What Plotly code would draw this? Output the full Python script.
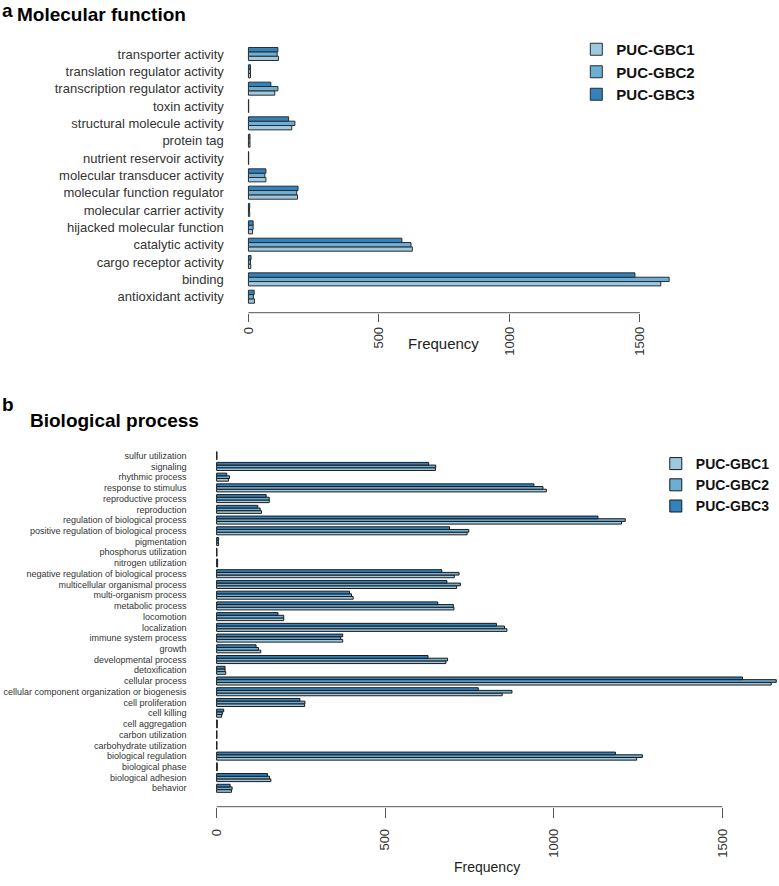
import plotly.graph_objects as go

W, H = 779, 886

# ---- panel a: molecular function (bottom -> top) ----
mf_terms = [
    "antioxidant activity", "binding", "cargo receptor activity",
    "catalytic activity", "hijacked molecular function",
    "molecular carrier activity", "molecular function regulator",
    "molecular transducer activity", "nutrient reservoir activity",
    "protein tag", "structural molecule activity", "toxin activity",
    "transcription regulator activity", "translation regulator activity",
    "transporter activity",
]
mf_gbc1 = [23, 1580, 9, 628, 16, 5, 188, 67, 1, 6, 166, 1, 101, 8, 115]
mf_gbc2 = [19, 1612, 8, 623, 18, 4, 185, 63, 1, 6, 178, 1, 113, 8, 110]
mf_gbc3 = [22, 1481, 10, 588, 18, 5, 190, 67, 1, 6, 154, 1, 86, 8, 113]

# ---- panel b: biological process (bottom -> top) ----
bp_terms = [
    "behavior", "biological adhesion", "biological phase",
    "biological regulation", "carbohydrate utilization", "carbon utilization",
    "cell aggregation", "cell killing", "cell proliferation",
    "cellular component organization or biogenesis", "cellular process",
    "detoxification", "developmental process", "growth",
    "immune system process", "localization", "locomotion",
    "metabolic process", "multi-organism process",
    "multicellular organismal process",
    "negative regulation of biological process", "nitrogen utilization",
    "phosphorus utilization", "pigmentation",
    "positive regulation of biological process",
    "regulation of biological process", "reproduction",
    "reproductive process", "response to stimulus", "rhythmic process",
    "signaling", "sulfur utilization",
]
bp_gbc1 = [44, 161, 2, 1246, 1, 1, 2, 15, 261, 847, 1645, 27, 680, 131, 374,
           861, 199, 704, 405, 712, 705, 3, 1, 6, 743, 1201, 133, 156, 978,
           35, 649, 1]
bp_gbc2 = [46, 157, 2, 1263, 1, 1, 2, 17, 262, 876, 1660, 25, 685, 124, 368,
           854, 199, 702, 400, 723, 719, 3, 1, 5, 748, 1212, 129, 156, 968,
           38, 650, 1]
bp_gbc3 = [40, 151, 2, 1183, 1, 1, 2, 21, 247, 776, 1560, 25, 627, 117, 374,
           830, 182, 656, 394, 683, 668, 3, 1, 6, 691, 1131, 122, 147, 941,
           30, 629, 1]

series = ["PUC-GBC1", "PUC-GBC2", "PUC-GBC3"]
colors = ["#9ecae1", "#6baed6", "#3182bd"]
ticks = [0, 500, 1000, 1500]
FONT = "Liberation Sans, Arial, sans-serif"


def px_x(px):
    return px / W


def px_y(px):
    return 1 - px / H


fig = go.Figure()

for name, col, vals in zip(series, colors, [mf_gbc1, mf_gbc2, mf_gbc3]):
    fig.add_trace(go.Bar(
        x=vals, y=mf_terms, orientation="h", name=name,
        marker=dict(color=col, line=dict(color="#2b2b2b", width=1)),
        xaxis="x", yaxis="y", legend="legend",
    ))

for name, col, vals in zip(series, colors, [bp_gbc1, bp_gbc2, bp_gbc3]):
    fig.add_trace(go.Bar(
        x=vals, y=bp_terms, orientation="h", name=name,
        marker=dict(color=col, line=dict(color="#1a1a1a", width=1)),
        xaxis="x2", yaxis="y2", legend="legend2",
    ))

# panel a scale: 0 at 245px, 1500 at 639px
ka = (639 - 245) / 1500
ra = [-10, 1650]
dom_xa = [px_x(245 + ra[0] * ka), px_x(245 + ra[1] * ka)]
# panel b scale: 0 at 213px, 1000 at 552.3px
kb = (552.3 - 213) / 1000
rb = [-15, (W - 213) / kb]
dom_xb = [px_x(213 + rb[0] * kb), 1.0]

sa = 17.35
dom_ya = [px_y(296.7 + sa / 2), px_y(54 - sa / 2)]
sb = (788.3 - 455.7) / 31
dom_yb = [px_y(788.3 + sb / 2), px_y(455.7 - sb / 2)]

axis_common = dict(showgrid=False, zeroline=False, showline=False,
                   tickvals=ticks, tickangle=-90, ticks="outside",
                   tickcolor="#555", tickwidth=1,
                   tickfont=dict(family=FONT, size=13, color="#333"))

fig.update_layout(
    width=W, height=H, autosize=False,
    margin=dict(l=0, r=0, t=0, b=0),
    paper_bgcolor="white", plot_bgcolor="white",
    barmode="group", bargap=0.25, bargroupgap=0,
    font=dict(family=FONT, color="#222"),
    xaxis=dict(domain=dom_xa, range=ra, anchor="free",
               position=px_y(312.7), ticklen=8, **axis_common),
    yaxis=dict(domain=dom_ya, anchor="x", showgrid=False, zeroline=False,
               showline=False, ticks="", ticklabelstandoff=21,
               tickmode="array", tickvals=mf_terms,
               tickfont=dict(family=FONT, size=13, color="#333")),
    xaxis2=dict(domain=dom_xb, range=rb, anchor="free",
                position=px_y(806.7), ticklen=10, ticklabelstandoff=6,
                **axis_common),
    yaxis2=dict(domain=dom_yb, anchor="x2", showgrid=False, zeroline=False,
                showline=False, ticks="", ticklabelstandoff=24,
                tickmode="array", tickvals=bp_terms,
                tickfont=dict(family=FONT, size=9, color="#333")),
    legend=dict(x=px_x(575), y=px_y(33), xanchor="left", yanchor="top",
                traceorder="normal", bgcolor="rgba(0,0,0,0)",
                font=dict(family=FONT, size=15, color="#111", weight="bold")),
    legend2=dict(x=px_x(655), y=px_y(448), xanchor="left", yanchor="top",
                 traceorder="normal", bgcolor="rgba(0,0,0,0)",
                 font=dict(family=FONT, size=14, color="#111",
                           weight="bold")),
    showlegend=True,
)

# R-style axis lines spanning first to last tick
fig.add_shape(type="line", xref="x", yref="paper", x0=ticks[0], x1=ticks[-1],
              y0=px_y(312.7), y1=px_y(312.7), line=dict(color="#555", width=1))
fig.add_shape(type="line", xref="x2", yref="paper", x0=ticks[0], x1=ticks[-1],
              y0=px_y(806.7), y1=px_y(806.7), line=dict(color="#555", width=1))

notes = [
    ("a", -5, 10, 19),
    ("Molecular function", 10, 15, 19),
    ("b", -5, 404, 19),
    ("Biological process", 23, 421, 19),
]
for txt, x, y, size in notes:
    fig.add_annotation(text=txt, x=px_x(x), y=px_y(y), xref="paper",
                       yref="paper", xanchor="left", yanchor="middle",
                       showarrow=False,
                       font=dict(family=FONT, size=size, color="#000",
                                 weight="bold"))

fig.add_annotation(text="Frequency", x=px_x(441), y=px_y(343), xref="paper",
                   yref="paper", showarrow=False,
                   font=dict(family=FONT, size=15, color="#222"))
fig.add_annotation(text="Frequency", x=px_x(485), y=px_y(877), xref="paper",
                   yref="paper", showarrow=False,
                   font=dict(family=FONT, size=14, color="#222"))

# drop the default 8px page margin so the figure sits at the window corner
fig.write_html("out.html", config={"displayModeBar": False},
               post_script="document.body.style.margin='0px';")
